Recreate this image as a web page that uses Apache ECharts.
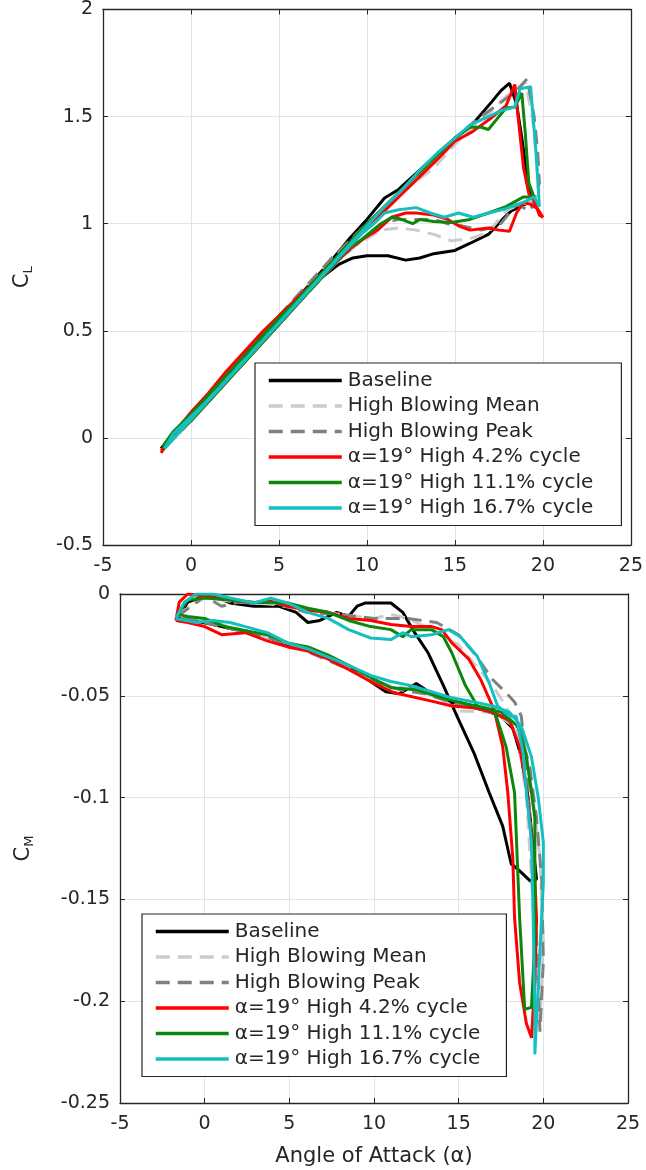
<!DOCTYPE html>
<html><head><meta charset="utf-8">
<script src="https://cdn.jsdelivr.net/npm/echarts@6/dist/echarts.min.js"></script>
<style>html,body{margin:0;padding:0;background:#fff}#c{width:646px;height:1170px}</style>
</head><body><div id="c"></div>
<script>
// ---------- tick labels / axis ranges ----------
const xTicks = [-5, 0, 5, 10, 15, 20, 25];
const clTicks = [-0.5, 0, 0.5, 1, 1.5, 2];
const cmTicks = [-0.25, -0.2, -0.15, -0.1, -0.05, 0];

const seriesNames = ['Baseline', 'High Blowing Mean', 'High Blowing Peak',
  'α=19° High 4.2% cycle', 'α=19° High 11.1% cycle', 'α=19° High 16.7% cycle'];

// ---------- C_L loops [alpha, CL] ----------
const clBaseline = [[-1.7,-0.05],[-1,0.02],[0,0.11],[1,0.2],[2,0.29],[3,0.38],[4,0.47],[5,0.56],[6,0.65],[7,0.74],[8,0.83],[9,0.93],[10,1.02],[11,1.12],[11.8,1.16],[13,1.25],[13.8,1.31],[15,1.4],[15.85,1.45],[17.1,1.57],[17.6,1.62],[18.1,1.656],
  [18.5,1.56],[18.8,1.4],[19.0,1.28],[19.2,1.17],[19.4,1.1],
  [19.2,1.1],[18.7,1.08],[18.2,1.06],[17.7,1.02],[16.9,0.95],[15.9,0.91],[15.0,0.875],[13.8,0.86],[13,0.84],[12.2,0.83],[11.2,0.85],[10,0.85],[9.2,0.84],[8.4,0.81],[7.75,0.77],[7,0.72],[6,0.64],[5,0.55],[4,0.46],[3,0.37],[2,0.28],[1,0.19],[0,0.1],[-1,0.01],[-1.7,-0.05]];
const clMean = [[-1.6,-0.06],[0,0.1],[2,0.28],[4,0.47],[6,0.66],[8,0.83],[10,1.0],[12,1.15],[13.8,1.26],[15,1.37],[16,1.45],[17,1.52],[18,1.6],[19,1.66],
  [19.4,1.5],[19.7,1.25],[19.8,1.12],
  [19.2,1.1],[18.4,1.08],[17.9,1.06],[16.9,0.96],[15.85,0.93],[14.8,0.92],[13.8,0.95],[12.8,0.97],[11.8,0.98],[10.8,0.97],[9.4,0.9],[8,0.8],[6,0.62],[4,0.44],[2,0.26],[0,0.08],[-1.6,-0.06]];
const clPeak = [[-1.6,-0.05],[0,0.11],[2,0.29],[4,0.48],[6,0.66],[8,0.84],[10,1.0],[12,1.16],[14,1.32],[16,1.47],[17.5,1.56],[18.5,1.62],[19.1,1.676],
  [19.5,1.5],[19.7,1.34],[19.8,1.19],
  [19.3,1.06],[18.5,1.09],[17.5,0.99],[16.5,0.97],[15.4,0.99],[14.6,1.0],[13.8,1.02],[11.8,1.02],[10.8,1.0],[9.8,0.93],[8.5,0.84],[6,0.62],[4,0.44],[2,0.26],[0,0.08],[-1.6,-0.05]];
const clLow = [[-1.7,-0.07],[-1,0.02],[0,0.12],[1,0.21],[2,0.31],[3,0.4],[4,0.49],[5,0.57],[6,0.65],[7,0.73],[8,0.82],[9,0.9],[10,0.99],[11,1.06],[12,1.14],[13,1.22],[14,1.3],[15,1.385],[16,1.43],[17,1.49],[17.9,1.55],[18.4,1.65],
  [18.6,1.49],[18.9,1.26],[19.2,1.14],[19.5,1.11],[19.8,1.04],[20,1.03],
  [19.7,1.07],[19.3,1.09],[18.9,1.1],[18.5,1.05],[18.1,0.965],[17.5,0.97],[16.9,0.98],[15.85,0.97],[15.2,0.99],[14.6,1.02],[13.8,1.04],[12.8,1.05],[12.2,1.05],[11.4,1.03],[10.6,0.97],[9.8,0.93],[9,0.88],[8,0.8],[7,0.71],[6,0.62],[5,0.53],[4,0.44],[3,0.35],[2,0.26],[1,0.17],[0,0.08],[-1,0],[-1.7,-0.06]];
const clMid = [[-1.6,-0.04],[-1,0.03],[0,0.11],[1,0.2],[2,0.29],[3,0.38],[4,0.47],[5,0.56],[6,0.64],[7,0.73],[8,0.82],[9,0.91],[10,1.0],[11,1.08],[12,1.16],[13,1.24],[14,1.32],[15,1.4],[15.85,1.45],[16.5,1.45],[16.9,1.44],[17.3,1.48],[17.9,1.54],[18.4,1.545],[18.8,1.61],
  [19.0,1.42],[19.2,1.19],[19.5,1.125],
  [18.9,1.125],[17.9,1.08],[16.9,1.05],[15.85,1.02],[14.8,1.006],[13.8,1.01],[13,1.02],[12.6,1.0],[11.8,1.025],[11.4,1.03],[10.8,1.0],[10.2,0.96],[9.6,0.92],[9,0.89],[8,0.8],[7,0.71],[6,0.62],[5,0.53],[4,0.44],[3,0.35],[2,0.26],[1,0.17],[0,0.08],[-1,0.0],[-1.6,-0.05]];
const clHigh = [[-1.5,-0.05],[-1,0.02],[0,0.1],[1,0.18],[2,0.27],[3,0.36],[4,0.45],[5,0.54],[6,0.63],[7,0.72],[8,0.81],[9,0.9],[10,0.99],[11,1.08],[12,1.16],[13,1.25],[14,1.33],[15,1.4],[15.85,1.46],[16.9,1.5],[17.7,1.53],[18.4,1.545],[18.7,1.63],[19.3,1.64],
  [19.6,1.34],[19.8,1.08],
  [19.5,1.125],[18.9,1.1],[17.9,1.07],[16.9,1.05],[16.05,1.03],[15.2,1.05],[14.4,1.03],[13.6,1.05],[12.8,1.075],[11.8,1.065],[11,1.05],[10.4,1.0],[9.8,0.96],[9.2,0.91],[8.5,0.85],[7.5,0.76],[6.5,0.67],[5.5,0.58],[4.5,0.49],[3.5,0.4],[2.5,0.31],[1.5,0.22],[0.5,0.13],[-0.5,0.04],[-1.5,-0.05]];

// ---------- C_M loops [alpha, CM] ----------
const cmBaseline = [[-1.6,-0.012],[-1,-0.004],[0,-0.001],[0.8,-0.002],[1.5,-0.0044],[2.9,-0.006],[4.4,-0.006],[5.4,-0.009],[6.1,-0.014],[6.8,-0.013],[7.8,-0.009],[8.5,-0.011],[9,-0.006],[9.5,-0.0044],[11,-0.0044],[11.7,-0.009],[12.4,-0.019],[13.2,-0.029],[14.1,-0.045],[14.9,-0.06],[15.9,-0.078],[16.8,-0.0975],[17.6,-0.114],[18.1,-0.1325],[18.6,-0.136],[19.3,-0.1415],[19.6,-0.14],
  [19.4,-0.125],[19.1,-0.1],[18.7,-0.08],[18.2,-0.066],[17.5,-0.06],[16.5,-0.057],[15.5,-0.055],[14.6,-0.053],[13.4,-0.049],[12.5,-0.044],[11.5,-0.049],[10.7,-0.048],[9.8,-0.043],[8.5,-0.036],[7.3,-0.031],[6.1,-0.027],[4.9,-0.025],[3.7,-0.021],[2.4,-0.018],[1.5,-0.017],[0.5,-0.015],[-0.7,-0.013],[-1.6,-0.012]];
const cmMean = [[-1.6,-0.01],[0,-0.002],[2,-0.004],[4,-0.005],[6,-0.008],[8,-0.01],[10,-0.012],[11,-0.01],[12,-0.012],[13.5,-0.018],[15,-0.025],[16,-0.035],[17,-0.045],[17.8,-0.055],[18.5,-0.07],[19,-0.1],[19.3,-0.14],[19.6,-0.18],[19.8,-0.21],
  [20,-0.17],[19.8,-0.13],[19.4,-0.1],[19,-0.08],[18.3,-0.065],[17,-0.058],[15.1,-0.0575],[14,-0.052],[12.5,-0.047],[11,-0.045],[9.8,-0.042],[8.5,-0.036],[6,-0.027],[4,-0.022],[2,-0.017],[0,-0.013],[-1.6,-0.01]];
const cmPeak = [[-1.6,-0.011],[0,-0.001],[1,-0.006],[2,-0.004],[4,-0.004],[6,-0.009],[8,-0.01],[10,-0.012],[12,-0.012],[13.7,-0.014],[15,-0.02],[16,-0.03],[17,-0.042],[17.8,-0.0485],[18.3,-0.053],[18.7,-0.06],[19,-0.085],[19.3,-0.12],[19.6,-0.17],[19.8,-0.215],
  [20,-0.18],[19.9,-0.14],[19.6,-0.11],[19.2,-0.085],[18.6,-0.066],[17.5,-0.06],[16,-0.056],[14.5,-0.053],[13,-0.049],[11.5,-0.047],[10,-0.043],[8.5,-0.037],[6,-0.028],[4,-0.022],[2,-0.018],[0,-0.014],[-1.6,-0.011]];
const cmLow = [[-1.7,-0.013],[-1.5,-0.004],[-1,0],[0,-0.001],[1.5,-0.003],[2.9,-0.0044],[3.7,-0.003],[4.9,-0.006],[6.1,-0.008],[7.3,-0.009],[8.5,-0.012],[9.8,-0.013],[11,-0.015],[12.2,-0.016],[13.4,-0.016],[14,-0.0175],[14.6,-0.024],[15.6,-0.032],[16.3,-0.042],[17.1,-0.057],[17.6,-0.075],[17.9,-0.0975],[18.2,-0.13],[18.3,-0.159],[18.6,-0.191],[19,-0.211],[19.3,-0.218],
  [19.5,-0.19],[19.6,-0.16],[19.5,-0.14],[19.3,-0.12],[19,-0.095],[18.6,-0.075],[18,-0.062],[17,-0.058],[16,-0.056],[14.6,-0.055],[13.4,-0.0526],[11.2,-0.0485],[9.8,-0.043],[8.5,-0.037],[7.3,-0.032],[6.1,-0.028],[4.9,-0.026],[3.7,-0.023],[2.4,-0.019],[1,-0.02],[0,-0.016],[-1,-0.014],[-1.7,-0.013]];
const cmMid = [[-1.6,-0.01],[-1,-0.003],[0,-0.002],[1.5,-0.003],[2.9,-0.004],[4.9,-0.0044],[6.1,-0.007],[7.3,-0.009],[8.5,-0.013],[9.8,-0.016],[11,-0.0175],[11.7,-0.021],[12.2,-0.0175],[13.4,-0.0175],[14.1,-0.021],[14.6,-0.029],[15.4,-0.045],[16.1,-0.055],[17.1,-0.057],[17.8,-0.075],[18.3,-0.0975],[18.6,-0.159],[18.9,-0.204],[19.3,-0.203],
  [19.5,-0.17],[19.5,-0.141],[19.5,-0.11],[19.3,-0.0975],[19,-0.08],[18.5,-0.065],[17.5,-0.058],[16.5,-0.056],[15.5,-0.054],[14,-0.051],[12.5,-0.047],[11,-0.046],[9.8,-0.041],[8.5,-0.035],[7.3,-0.03],[6.1,-0.026],[4.9,-0.024],[3.7,-0.02],[2.4,-0.018],[1.2,-0.016],[0,-0.012],[-1,-0.011],[-1.6,-0.01]];
const cmHigh = [[-1.7,-0.012],[-1.2,-0.004],[-0.5,0],[0.5,0],[1.5,-0.002],[2.9,-0.0044],[3.9,-0.002],[4.9,-0.0044],[6.1,-0.009],[7.3,-0.012],[8.5,-0.0175],[9.8,-0.0216],[11,-0.0224],[11.7,-0.019],[12.2,-0.021],[13.4,-0.02],[14.4,-0.0175],[15.1,-0.021],[16.1,-0.0306],[16.8,-0.0436],[17.3,-0.055],[18,-0.06],[18.4,-0.06],[18.8,-0.078],[19,-0.0975],[19.3,-0.122],[19.4,-0.159],[19.5,-0.208],[19.5,-0.226],
  [19.8,-0.175],[20,-0.142],[20,-0.122],[19.7,-0.1],[19.3,-0.08],[18.7,-0.065],[18,-0.058],[17,-0.055],[15.9,-0.053],[14.6,-0.051],[13.4,-0.048],[12.2,-0.045],[11,-0.043],[9.8,-0.04],[8.5,-0.035],[7.3,-0.031],[6.1,-0.027],[4.9,-0.024],[3.7,-0.019],[2.4,-0.016],[1.5,-0.014],[0.5,-0.013],[-0.5,-0.014],[-1.7,-0.012]];

const clSets = [clBaseline, clMean, clPeak, clLow, clMid, clHigh];
const cmSets = [cmBaseline, cmMean, cmPeak, cmLow, cmMid, cmHigh];

// ---------- styling ----------
const FONT = 'DejaVu Sans';
const INK = '#262626';
const styles = [
  {color: '#000000', type: 'solid', width: 3},
  {color: '#cccccc', type: [14, 8], width: 3},
  {color: '#808080', type: [14, 8], width: 3},
  {color: '#ff0000', type: 'solid', width: 3},
  {color: '#0b870b', type: 'solid', width: 3},
  {color: '#14bfbf', type: 'solid', width: 3}
];

function fmt(v) { return String(+Number(v).toFixed(4)); }

function mainX(gi, ticks, extra) {
  return Object.assign({
    type: 'value', gridIndex: gi, position: 'bottom',
    min: ticks[0], max: ticks[ticks.length - 1], interval: ticks[1] - ticks[0],
    axisLine: {show: true, onZero: false, lineStyle: {color: INK, width: 1.3}},
    axisTick: {show: true, inside: true, length: 5, lineStyle: {color: INK}},
    axisLabel: {show: true, fontFamily: FONT, fontSize: 19, color: INK, margin: 12,
      showMinLabel: true, showMaxLabel: true, formatter: fmt},
    splitLine: {show: true, lineStyle: {color: '#e3e3e3', width: 1}}
  }, extra || {});
}
function boxX(gi, ticks) {
  return {
    type: 'value', gridIndex: gi, position: 'top',
    min: ticks[0], max: ticks[ticks.length - 1], interval: ticks[1] - ticks[0],
    axisLine: {show: true, onZero: false, lineStyle: {color: INK, width: 1.3}},
    axisTick: {show: true, inside: true, length: 5, lineStyle: {color: INK}},
    axisLabel: {show: false}, splitLine: {show: false}
  };
}
function mainY(gi, ticks, extra) {
  return Object.assign({
    type: 'value', gridIndex: gi, position: 'left',
    min: ticks[0], max: ticks[ticks.length - 1], interval: +(ticks[1] - ticks[0]).toFixed(4),
    axisLine: {show: true, onZero: false, lineStyle: {color: INK, width: 1.3}},
    axisTick: {show: true, inside: true, length: 5, lineStyle: {color: INK}},
    axisLabel: {show: true, fontFamily: FONT, fontSize: 19, color: INK, margin: 10,
      showMinLabel: true, showMaxLabel: true, formatter: fmt},
    splitLine: {show: true, lineStyle: {color: '#e3e3e3', width: 1}}
  }, extra || {});
}
function boxY(gi, ticks) {
  return {
    type: 'value', gridIndex: gi, position: 'right',
    min: ticks[0], max: ticks[ticks.length - 1], interval: +(ticks[1] - ticks[0]).toFixed(4),
    axisLine: {show: true, onZero: false, lineStyle: {color: INK, width: 1.3}},
    axisTick: {show: true, inside: true, length: 5, lineStyle: {color: INK}},
    axisLabel: {show: false}, splitLine: {show: false}
  };
}

const nameRich = {
  b: {fontFamily: FONT, fontSize: 21, color: INK},
  s: {fontFamily: FONT, fontSize: 13, color: INK, lineHeight: 13, padding: [12, 0, 0, 0]}
};

const series = [];
seriesNames.forEach((nm, i) => {
  const st = styles[i];
  [[clSets[i], 0, 0], [cmSets[i], 2, 2]].forEach(([data, xi, yi]) => {
    series.push({
      type: 'line', name: nm, data: data, xAxisIndex: xi, yAxisIndex: yi,
      symbol: 'none', showSymbol: false, smooth: false, z: 2 + i,
      lineStyle: {color: st.color, width: st.width, type: st.type},
      itemStyle: {color: st.color}, emphasis: {disabled: true}
    });
  });
});

function legend(left, top, padRight) {
  return {
    show: true, orient: 'vertical', left: left, top: top,
    data: seriesNames,
    padding: [7, padRight, 7, 12],
    backgroundColor: '#ffffff', borderColor: INK, borderWidth: 1.2, borderRadius: 0,
    itemWidth: 73, itemHeight: 14, itemGap: 4.5,
    selectedMode: false,
    itemStyle: {opacity: 0, borderWidth: 0},
    lineStyle: {width: 3.5},
    textStyle: {fontFamily: FONT, fontSize: 20, color: INK, lineHeight: 21, padding: [0, 0, 0, 1]}
  };
}

const option = {
  animation: false,
  backgroundColor: '#ffffff',
  grid: [
    {left: 103, top: 8, width: 530, height: 537, containLabel: false},
    {left: 120, top: 594, width: 508, height: 509, containLabel: false}
  ],
  xAxis: [
    mainX(0, xTicks),
    boxX(0, xTicks),
    mainX(1, xTicks, {name: 'Angle of Attack (α)', nameLocation: 'middle', nameGap: 43,
      nameTextStyle: {fontFamily: FONT, fontSize: 21, color: INK}}),
    boxX(1, xTicks)
  ],
  yAxis: [
    mainY(0, clTicks, {name: '{b|C}{s|L}', nameLocation: 'middle', nameRotate: 90, nameGap: 70,
      nameTextStyle: {rich: nameRich}}),
    boxY(0, clTicks),
    mainY(1, cmTicks, {name: '{b|C}{s|M}', nameLocation: 'middle', nameRotate: 90, nameGap: 86,
      nameTextStyle: {rich: nameRich}}),
    boxY(1, cmTicks)
  ],
  legend: [legend(255, 363, 28), legend(142, 914, 26)],
  series: series
};

const chart = echarts.init(document.getElementById('c'), null, {renderer: 'canvas'});
chart.setOption(option);
</script>
</body></html>
